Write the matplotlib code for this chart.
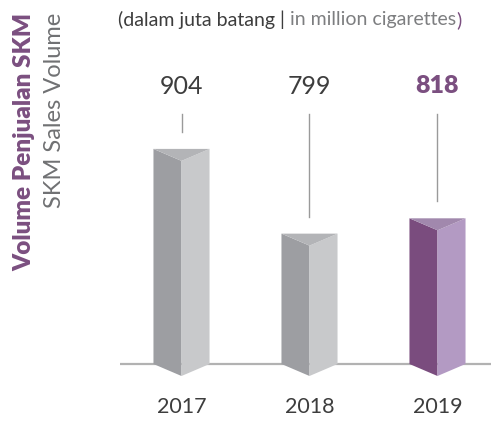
import matplotlib
matplotlib.use("Agg")
import matplotlib.pyplot as plt
from matplotlib.patches import Polygon

plt.rcParams["font.family"] = ["Lato", "DejaVu Sans"]

# data
years = ["2017", "2018", "2019"]
volume = [904, 799, 818]
highlight = [False, False, True]

# colours (left face, right face, top)
GREY = ("#9d9ea2", "#c8c9cb", "#b3b4b7")
PURPLE = ("#7a4c7e", "#b39ac3", "#a188ad")
TXT = "#3d3d3d"
SUB = "#707173"
PUR_TXT = "#7b4f80"

W, H = 491, 422
fig = plt.figure(figsize=(W / 100, H / 100), dpi=100)
ax = fig.add_axes([0, 0, 1, 1])
ax.set_axis_off()

# axis mapping: baseline at 364px from top, truncated scale
y_lo, y_hi = 565.6, 1088.5
ax.set_xlim(-1.418, 2.418)
ax.set_ylim(y_lo, y_hi)
upp = (y_hi - y_lo) / H          # data units per pixel
base = y_hi - 364 * upp

half_w = 0.219
drop = 12 * upp

ax.plot([(120 - 181.5) / 128, 2.418], [base, base], color="#b2b2b2",
        lw=1.6, zorder=1, solid_capstyle="butt")

line_top = y_hi - 114 * upp
for i, (v, hl) in enumerate(zip(volume, highlight)):
    left, right, top = GREY if not hl else PURPLE
    x = i
    lf = [(x - half_w, base), (x - half_w, v), (x, v - drop), (x, base - drop)]
    rf = [(x, base - drop), (x, v - drop), (x + half_w, v), (x + half_w, base)]
    tp = [(x - half_w, v), (x + half_w, v), (x, v - drop)]
    for pts, c in [(lf, left), (rf, right), (tp, top)]:
        ax.add_patch(Polygon(pts, closed=True, facecolor=c, edgecolor="none", zorder=3))
    # leader line
    ax.plot([x, x], [v + 17 * upp, line_top], color="#9a9a9a", lw=1.0, zorder=2)
    ax.text(x, y_hi - 86 * upp, f"{v}", ha="center", va="center", fontsize=18,
            color=PUR_TXT if hl else TXT, fontweight="heavy" if hl else "normal")
    ax.text(x, y_hi - 407 * upp, years[i], ha="center", va="center", fontsize=15.5,
            color=TXT)

# rotated titles
fig.text(24 / W, 1 - 13 / H, "Volume Penjualan SKM", rotation=90, ha="center",
         va="top", fontsize=17.5, fontweight="heavy", color=PUR_TXT)
fig.text(55 / W, 1 - 13 / H, "SKM Sales Volume", rotation=90, ha="center",
         va="top", fontsize=17, color=SUB)

# subtitle built from pieces
fig.canvas.draw()
renderer = fig.canvas.get_renderer()
parts = [("(dalam juta batang | ", TXT), ("in million cigarettes", "#7d7e80"), (")", PUR_TXT)]
xpos = 118
for s, c in parts:
    t = fig.text(xpos / W, 1 - 20 / H, s, ha="left", va="center", fontsize=14, color=c)
    bb = t.get_window_extent(renderer)
    xpos += bb.width

fig.savefig("out.png", dpi=100)
